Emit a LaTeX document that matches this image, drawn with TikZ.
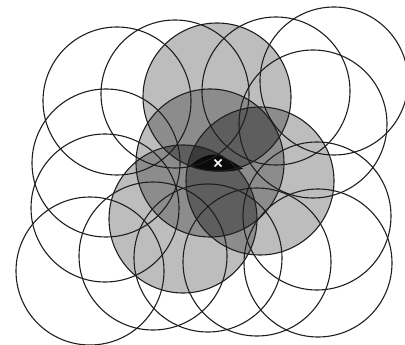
\documentclass[tikz,border=0pt]{standalone}
\begin{document}
\begin{tikzpicture}[x=1pt,y=-1pt,
  ring/.style={draw=black!88, line width=1.1pt},
  gone/.style={fill=black!26},
  gtwo/.style={fill=black!45},
  gthree/.style={fill=black!63},
  gfour/.style={fill=black!77},
  lensfill/.style={fill=black!96}]
\useasboundingbox (0,0) rectangle (405,345);
\def\R{74pt}
% white circles
\coordinate (A) at (117,101);
\coordinate (B) at (175,94);
\coordinate (C) at (276,91);
\coordinate (D) at (334,81);
\coordinate (E) at (313,124);
\coordinate (F) at (106,163);
\coordinate (G) at (105,208);
\coordinate (H) at (90,271);
\coordinate (I) at (153,256);
\coordinate (J) at (208,258);
\coordinate (K) at (257,262);
\coordinate (L) at (318,263);
\coordinate (M) at (317,216);
% shaded circles
\coordinate (S1) at (217,97);
\coordinate (S2) at (210,163);
\coordinate (S3) at (260,181);
\coordinate (S4) at (183,219);
% lens and mark
\coordinate (LL) at (190,166);
\coordinate (LT) at (213,154.5);
\coordinate (LR) at (243,168.5);
\coordinate (X) at (218,163);
% fills
\foreach \c in {S1,S2,S3,S4} \fill[gone] (\c) circle (\R);
\begin{scope}\clip (S1) circle (\R);
  \fill[gtwo] (S2) circle (\R); \fill[gtwo] (S3) circle (\R); \fill[gtwo] (S4) circle (\R);
\end{scope}
\begin{scope}\clip (S2) circle (\R);
  \fill[gtwo] (S3) circle (\R); \fill[gtwo] (S4) circle (\R);
\end{scope}
\begin{scope}\clip (S3) circle (\R);
  \fill[gtwo] (S4) circle (\R);
\end{scope}
\begin{scope}\clip (S1) circle (\R); \clip (S2) circle (\R);
  \fill[gthree] (S3) circle (\R); \fill[gthree] (S4) circle (\R);
\end{scope}
\begin{scope}\clip (S1) circle (\R); \clip (S3) circle (\R);
  \fill[gthree] (S4) circle (\R);
\end{scope}
\begin{scope}\clip (S2) circle (\R); \clip (S3) circle (\R);
  \fill[gthree] (S4) circle (\R);
\end{scope}
\begin{scope}\clip (S1) circle (\R); \clip (S2) circle (\R); \clip (S3) circle (\R);
  \fill[gfour] (S4) circle (\R);
\end{scope}
% black lens
\fill[lensfill] (LL) .. controls (197,159.5) and (205,155) .. (LT)
  .. controls (222,154.5) and (233,162) .. (LR)
  .. controls (232,173) and (203,173) .. (LL) -- cycle;
% outlines
\foreach \c in {A,B,C,D,E,F,G,H,I,J,K,L,M,S1,S2,S3,S4} \draw[ring] (\c) circle (\R);
% cross
\draw[white, line width=1.5pt] ([shift={(-3.5,-3.5)}]X) -- ([shift={(3.5,3.5)}]X);
\draw[white, line width=1.5pt] ([shift={(-3.5,3.5)}]X) -- ([shift={(3.5,-3.5)}]X);
\end{tikzpicture}
\end{document}
